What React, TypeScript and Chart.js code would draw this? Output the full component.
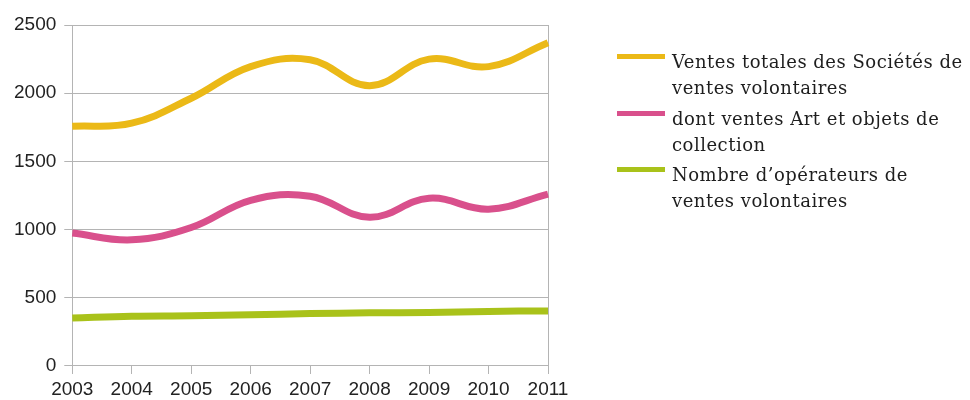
import React, { useEffect, useRef } from "react";
import { Chart, registerables } from "chart.js";

Chart.register(...registerables);

const years = ["2003", "2004", "2005", "2006", "2007", "2008", "2009", "2010", "2011"];
const ventesTotales = [1757, 1780, 1963, 2195, 2245, 2055, 2250, 2195, 2370];
const ventesArt = [975, 925, 1015, 1215, 1245, 1090, 1230, 1150, 1260];
const operateurs = [352, 365, 368, 376, 384, 390, 392, 400, 404];
const yTicks = [0, 500, 1000, 1500, 2000, 2500];

const seriesNames = [
  ["Ventes totales des Sociétés de", "ventes volontaires"],
  ["dont ventes Art et objets de", "collection"],
  ["Nombre d\u2019opérateurs de", "ventes volontaires"],
];
const colors = ["#EBB917", "#D9508C", "#A9C21A"];

const GRID = "#b4b4b4";

const rightBorder = {
  id: "rightBorder",
  beforeDatasetsDraw(chart: any) {
    const { ctx, chartArea } = chart;
    ctx.save();
    ctx.strokeStyle = GRID;
    ctx.lineWidth = 1;
    ctx.beginPath();
    ctx.moveTo(Math.round(chartArea.right) + 0.5, chartArea.top);
    ctx.lineTo(Math.round(chartArea.right) + 0.5, chartArea.bottom);
    ctx.stroke();
    ctx.restore();
  },
};

export default function App() {
  const ref = useRef<HTMLCanvasElement>(null);

  useEffect(() => {
    if (!ref.current) return;
    const data = [ventesTotales, ventesArt, operateurs];
    const chart = new Chart(ref.current, {
      type: "line",
      data: {
        labels: years,
        datasets: data.map((d, i) => ({
          label: seriesNames[i].join(" "),
          data: d,
          borderColor: colors[i],
          backgroundColor: colors[i],
          borderWidth: 7,
          pointRadius: 0,
          tension: 0.4,
          fill: false,
        })),
      },
      options: {
        animation: false,
        responsive: false,
        maintainAspectRatio: false,
        layout: { padding: { left: 6, right: 422, top: 25, bottom: -6 } },
        plugins: { legend: { display: false }, tooltip: { enabled: false } },
        scales: {
          x: {
            type: "category",
            offset: false,
            grid: {
              display: true,
              drawOnChartArea: false,
              drawTicks: true,
              tickLength: 8,
              color: GRID,
            },
            border: { display: true, color: GRID },
            ticks: {
              color: "#222",
              padding: 5,
              maxRotation: 0,
              autoSkip: false,
              font: { family: "'Liberation Sans', Arial, sans-serif", size: 19, lineHeight: 1.158 },
            },
          },
          y: {
            min: 0,
            max: 2500,
            afterBuildTicks: (axis: any) => {
              axis.ticks = yTicks.map((v) => ({ value: v }));
            },
            grid: { color: GRID, tickLength: 8, drawTicks: true },
            border: { display: true, color: GRID },
            ticks: {
              color: "#222",
              padding: 8,
              callback: (v: any) => String(v),
              font: { family: "'Liberation Sans', Arial, sans-serif", size: 19 },
            },
          },
        },
      },
      plugins: [rightBorder],
    });
    return () => chart.destroy();
  }, []);

  return (
    <div style={{ position: "fixed", left: 0, top: 0, width: 970, height: 400, background: "#fff" }}>
      <canvas ref={ref} width={970} height={400} style={{ display: "block" }} />
      <div
        style={{
          position: "absolute",
          left: 617,
          top: 49,
          fontFamily: "'DejaVu Serif', serif",
          fontSize: 18,
          letterSpacing: "0.5px",
          lineHeight: "26px",
          color: "#1e1e1e",
        }}
      >
        {seriesNames.map((lines, i) => (
          <div key={i} style={{ position: "relative", height: 52, marginBottom: 4.5 }}>
            <div
              style={{
                position: "absolute",
                left: 0,
                top: 5,
                width: 48,
                height: 5,
                background: colors[i],
              }}
            />
            <div style={{ position: "absolute", left: 55, top: 0, whiteSpace: "nowrap" }}>
              {lines.map((l, j) => (
                <div key={j}>{l}</div>
              ))}
            </div>
          </div>
        ))}
      </div>
    </div>
  );
}
